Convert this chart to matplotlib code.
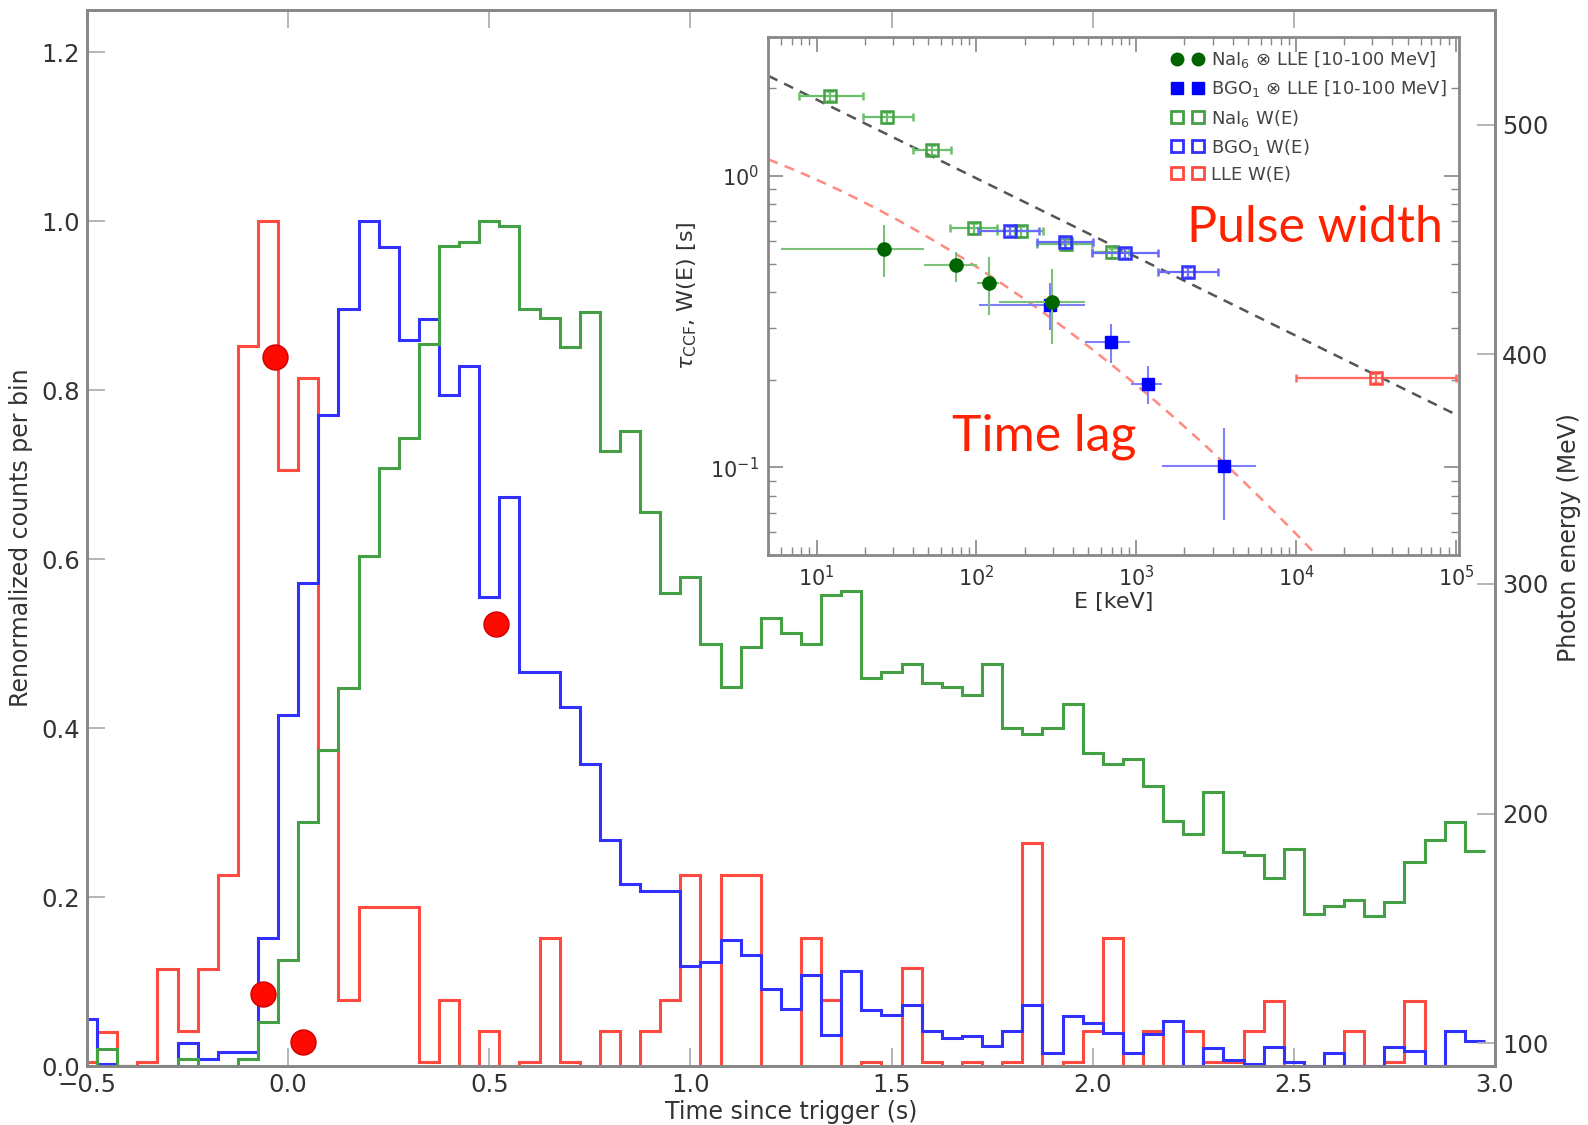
import numpy as np
import matplotlib
matplotlib.use("Agg")
import matplotlib.pyplot as plt
from matplotlib.lines import Line2D

plt.rcParams['font.family'] = ['DejaVu Sans']

# light curves, 50 ms bins centred on multiples of 0.05 s
t_edges = np.linspace(-0.525, 2.975, 71)

lle_counts = [0.005, 0.04, 0.0, 0.005, 0.115, 0.042, 0.115, 0.226, 0.852, 1.0,
              0.705, 0.815, 0.374, 0.078, 0.188, 0.188, 0.188, 0.005, 0.078, 0.0,
              0.042, 0.0, 0.005, 0.152, 0.005, 0.0, 0.041, 0.0, 0.041, 0.078,
              0.226, 0.0, 0.226, 0.226, 0.0, 0.0, 0.152, 0.078, 0.0, 0.005,
              0.0, 0.116, 0.005, 0.0, 0.005, 0.0, 0.005, 0.264, 0.0, 0.005,
              0.041, 0.152, 0.0, 0.041, 0.0, 0.041, 0.005, 0.005, 0.041, 0.077,
              0.0, 0.0, 0.0, 0.041, 0.0, 0.005, 0.077, 0.0, 0.0, 0.0]

bgo_counts = [0.056, 0.003, 0.0, 0.0, 0.0, 0.027, 0.008, 0.017, 0.017, 0.151,
              0.416, 0.572, 0.771, 0.896, 1.0, 0.969, 0.859, 0.884, 0.794, 0.829,
              0.555, 0.674, 0.467, 0.467, 0.425, 0.357, 0.268, 0.215, 0.207, 0.207,
              0.118, 0.123, 0.149, 0.132, 0.091, 0.067, 0.108, 0.037, 0.113, 0.066,
              0.060, 0.072, 0.041, 0.033, 0.035, 0.024, 0.042, 0.072, 0.016, 0.059,
              0.051, 0.039, 0.015, 0.038, 0.053, 0.0, 0.021, 0.007, 0.003, 0.022,
              0.005, 0.0, 0.016, 0.0, 0.0, 0.022, 0.018, 0.0, 0.042, 0.030]

nai_counts = [0.0, 0.02, 0.0, 0.0, 0.0, 0.008, 0.0, 0.0, 0.008, 0.052,
              0.125, 0.289, 0.374, 0.447, 0.604, 0.708, 0.743, 0.855, 0.971, 0.975,
              1.0, 0.994, 0.896, 0.886, 0.851, 0.893, 0.728, 0.752, 0.656, 0.560,
              0.579, 0.500, 0.449, 0.496, 0.530, 0.513, 0.500, 0.558, 0.562, 0.459,
              0.466, 0.476, 0.453, 0.449, 0.439, 0.476, 0.400, 0.393, 0.400, 0.429,
              0.370, 0.358, 0.364, 0.332, 0.290, 0.275, 0.324, 0.253, 0.250, 0.223,
              0.257, 0.180, 0.189, 0.196, 0.178, 0.194, 0.241, 0.267, 0.289, 0.254]

# single LLE photons (time, energy in MeV)
photon_t = [-0.033, 0.517, -0.062, 0.036]
photon_E = [399.0, 282.5, 121.4, 100.3]

# CCF lags vs energy
nai_lag_E = [26.5, 74.1, 119.7, 298.5]
nai_lag_E_lo = [6.0, 46.7, 101.0, 139.0]
nai_lag_E_hi = [47.2, 101.4, 138.0, 475.0]
nai_lag = [0.562, 0.493, 0.429, 0.370]
nai_lag_lo = [0.450, 0.434, 0.334, 0.265]
nai_lag_hi = [0.678, 0.549, 0.526, 0.481]

bgo_lag_E = [289.0, 698.0, 1189.0, 3527.0]
bgo_lag_E_lo = [103.5, 475.0, 922.0, 1449.0]
bgo_lag_E_hi = [475.0, 912.0, 1449.0, 5610.0]
bgo_lag = [0.360, 0.269, 0.193, 0.1015]
bgo_lag_lo = [0.297, 0.229, 0.165, 0.066]
bgo_lag_hi = [0.429, 0.311, 0.222, 0.137]

# pulse widths vs energy
nai_w_E = [12.2, 27.4, 52.5, 96.7, 190.0, 365.0, 708.0]
nai_w_E_lo = [7.8, 19.4, 40.3, 68.0, 135.0, 240.0, 530.0]
nai_w_E_hi = [19.4, 40.3, 69.0, 135.0, 261.0, 530.0, 900.0]
nai_w = [1.874, 1.586, 1.227, 0.660, 0.645, 0.582, 0.546]

bgo_w_E = [162.0, 360.0, 853.0, 2117.0]
bgo_w_E_lo = [103.0, 240.0, 531.0, 1358.0]
bgo_w_E_hi = [247.0, 538.0, 1358.0, 3258.0]
bgo_w = [0.649, 0.591, 0.544, 0.468]

lle_w_E = [31623.0]
lle_w_E_lo = [1.0e4]
lle_w_E_hi = [1.0e5]
lle_w = [0.2034]

# fitted relations: W = A E^k ; log tau = c0 + c1 logE + c2 logE^2
width_fit = (3.4, -0.27)
lag_fit = (0.18, -0.14, -0.053)

RED = '#ff4a40'
BLUE = '#3030ff'
GREEN = '#44a044'
TXT = '#333333'
SPINE = '#888888'

fig = plt.figure(figsize=(15.88, 11.25), dpi=100)
ax = fig.add_axes([0.0548, 0.0524, 0.8866, 0.9387])

ax.stairs(lle_counts, t_edges, baseline=None, color=RED, lw=2.2, zorder=2)
ax.stairs(bgo_counts, t_edges, baseline=None, color=BLUE, lw=2.2, zorder=3)
ax.stairs(nai_counts, t_edges, baseline=None, color=GREEN, lw=2.2, zorder=4)

ax.set_xlim(-0.5, 3.0)
ax.set_ylim(0, 1.25)
ax.set_xticks(np.arange(-0.5, 3.01, 0.5))
ax.set_yticks(np.arange(0, 1.21, 0.2))
ax.set_xlabel('Time since trigger (s)', fontsize=17, color=TXT, labelpad=2)
ax.set_ylabel('Renormalized counts per bin', fontsize=17, color=TXT, labelpad=6)
ax.tick_params(direction='in', length=13, width=1.3, color='#b0b0b0',
               top=True, right=False, labelsize=17.5, labelcolor=TXT, pad=5)
for s in ax.spines.values():
    s.set_color(SPINE)
    s.set_linewidth(2)

ax2 = ax.twinx()
ax2.plot(photon_t, photon_E, 'o', color='#ff0a00', mec='#d00000', mew=1,
         ms=18, zorder=10)
ax2.set_ylim(90, 550)
ax2.set_yticks([100, 200, 300, 400, 500])
ax2.set_ylabel('Photon energy (MeV)', fontsize=17, color=TXT, labelpad=6)
ax2.tick_params(direction='in', length=13, width=1.3, color='#b0b0b0',
                labelsize=17.5, labelcolor=TXT, pad=5)
for s in ax2.spines.values():
    s.set_color(SPINE)
    s.set_linewidth(2)

# inset: lags and widths vs energy
ax_in = fig.add_axes([0.4839, 0.5064, 0.4351, 0.461])
ax_in.set_xscale('log')
ax_in.set_yscale('log')

E_grid = np.logspace(np.log10(5), 5.05, 300)
lgE = np.log10(E_grid)
ax_in.plot(E_grid, width_fit[0] * E_grid ** width_fit[1], '--', color='#555555',
           lw=1.8, dashes=(4, 3), zorder=1)
ax_in.plot(E_grid, 10 ** (lag_fit[0] + lag_fit[1] * lgE + lag_fit[2] * lgE ** 2),
           '--', color='#ff8a80', lw=1.8, dashes=(4, 3), zorder=1)


def xerr(c, lo, hi):
    c = np.asarray(c)
    return [c - np.asarray(lo), np.asarray(hi) - c]


ax_in.errorbar(nai_w_E, nai_w, xerr=xerr(nai_w_E, nai_w_E_lo, nai_w_E_hi),
               yerr=[np.asarray(nai_w) * 0.04, np.asarray(nai_w) * 0.04],
               fmt='s', ms=9, mfc='none', mec=GREEN, mew=1.8,
               ecolor='#6cbf6c', elinewidth=1.6, capsize=3, capthick=1.6, zorder=4)
ax_in.errorbar(bgo_w_E, bgo_w, xerr=xerr(bgo_w_E, bgo_w_E_lo, bgo_w_E_hi),
               yerr=[np.asarray(bgo_w) * 0.04, np.asarray(bgo_w) * 0.04],
               fmt='s', ms=9, mfc='none', mec=BLUE, mew=1.8,
               ecolor='#6a6aff', elinewidth=1.6, capsize=3, capthick=1.6, zorder=5)
ax_in.errorbar(lle_w_E, lle_w, xerr=xerr(lle_w_E, lle_w_E_lo, lle_w_E_hi),
               yerr=[np.asarray(lle_w) * 0.04, np.asarray(lle_w) * 0.04],
               fmt='s', ms=9, mfc='none', mec=RED, mew=1.8,
               ecolor='#ff6a60', elinewidth=1.6, capsize=3, capthick=1.6, zorder=5)
ax_in.errorbar(bgo_lag_E, bgo_lag, xerr=xerr(bgo_lag_E, bgo_lag_E_lo, bgo_lag_E_hi),
               yerr=xerr(bgo_lag, bgo_lag_lo, bgo_lag_hi),
               fmt='s', ms=9, color='#0000ff', ecolor='#8080ff', elinewidth=1.5,
               capsize=0, zorder=6)
ax_in.errorbar(nai_lag_E, nai_lag, xerr=xerr(nai_lag_E, nai_lag_E_lo, nai_lag_E_hi),
               yerr=xerr(nai_lag, nai_lag_lo, nai_lag_hi),
               fmt='o', ms=9.5, color='#006400', ecolor='#7cc07c', elinewidth=1.5,
               capsize=0, zorder=7)

ax_in.set_xlim(5, 1.05e5)
ax_in.set_ylim(0.05, 3.0)
ax_in.set_xlabel('E [keV]', fontsize=16, color=TXT, labelpad=1)
ax_in.set_ylabel(r'$\tau_{\rm CCF}$, W(E) [s]', fontsize=16, color=TXT, labelpad=8)
ax_in.tick_params(which='both', direction='in', top=True, right=True,
                  color=SPINE, labelsize=15, labelcolor=TXT, pad=7)
ax_in.tick_params(which='major', length=11, width=1.2)
ax_in.tick_params(which='minor', length=6, width=1.0)
for s in ax_in.spines.values():
    s.set_color(SPINE)
    s.set_linewidth(2)

handles = [
    Line2D([], [], ls='none', marker='o', ms=9, color='#006400'),
    Line2D([], [], ls='none', marker='s', ms=9, color='#0000ff'),
    Line2D([], [], ls='none', marker='s', ms=9, mfc='none', mec=GREEN, mew=2),
    Line2D([], [], ls='none', marker='s', ms=9, mfc='none', mec=BLUE, mew=2),
    Line2D([], [], ls='none', marker='s', ms=9, mfc='none', mec=RED, mew=2),
]
labels = [r'NaI$_\mathregular{6}$ $\otimes$ LLE [10-100 MeV]',
          r'BGO$_\mathregular{1}$ $\otimes$ LLE [10-100 MeV]',
          r'NaI$_\mathregular{6}$ W(E)',
          r'BGO$_\mathregular{1}$ W(E)',
          'LLE W(E)']
leg = ax_in.legend(handles, labels, loc='upper right', numpoints=2, frameon=False,
                   fontsize=13, handlelength=1.8, handletextpad=0.4,
                   labelspacing=0.45, borderaxespad=0.3)
for t in leg.get_texts():
    t.set_color('#444444')

ax_in.text(0.606, 0.605, 'Pulse width', transform=ax_in.transAxes, fontsize=36,
           family=['Lato', 'DejaVu Sans'], color='#ff2200',
           va='baseline', zorder=8)
ax_in.text(0.265, 0.203, 'Time lag', transform=ax_in.transAxes, fontsize=36,
           family=['Lato', 'DejaVu Sans'], color='#ff2200',
           va='baseline', zorder=8)

fig.savefig('out.png', dpi=100)
